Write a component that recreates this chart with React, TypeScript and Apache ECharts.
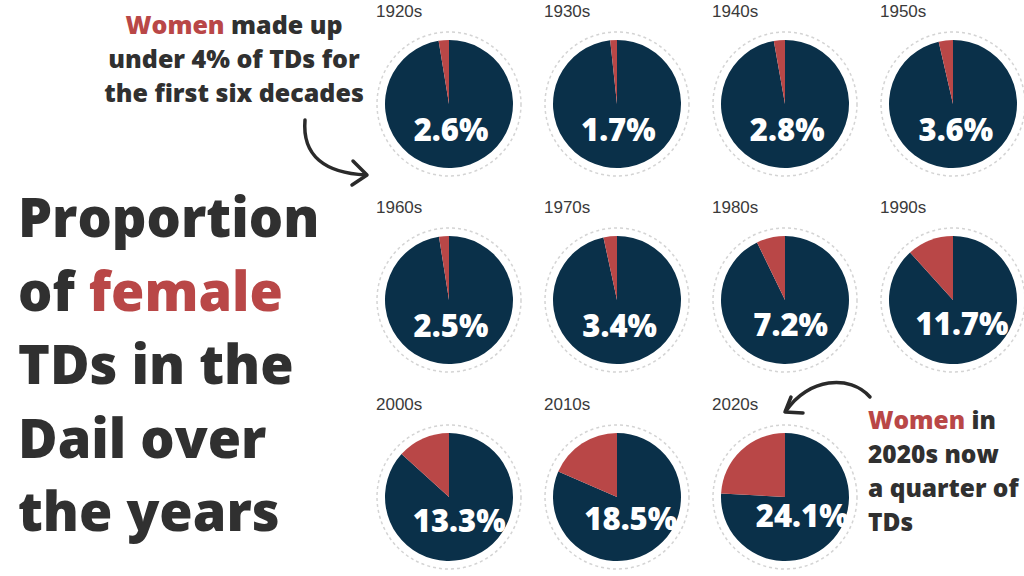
import React, { useEffect, useRef } from "react";
import * as echarts from "echarts";

const decades = ["1920s", "1930s", "1940s", "1950s", "1960s", "1970s", "1980s", "1990s", "2000s", "2010s", "2020s"];
const femaleShare = [2.6, 1.7, 2.8, 3.6, 2.5, 3.4, 7.2, 11.7, 13.3, 18.5, 24.1];
const titleLines = ["Proportion", "of {r|female}", "TDs in the", "Dail over", "the years"];
const note1Lines = ["{r|Women} made up", "under 4% of TDs for", "the first six decades"];
const note2Lines = ["{r|Women} in", "2020s now", "a quarter of", "TDs"];

const NAVY = "#0a3049";
const RED = "#b94747";
const DARK = "#303030";
const FONT = "Open Sans";

const COLS = [449, 617, 785, 953];
const ROWS = [104, 300, 497];
const R = 64;

export default function App() {
  const ref = useRef<HTMLDivElement>(null);
  useEffect(() => {
    document.body.style.margin = "0";
    const chart = echarts.init(ref.current!, null, { renderer: "svg" });
    const series: any[] = [];
    const titles: any[] = [];
    const graphics: any[] = [];
    decades.forEach((d, i) => {
      const cx = COLS[i % 4];
      const cy = ROWS[Math.floor(i / 4)];
      const p = femaleShare[i];
      graphics.push({
        type: "circle",
        shape: { cx, cy, r: 72 },
        style: { fill: "none", stroke: "#d4d4d4", lineWidth: 1.5, lineDash: [3, 3] },
        silent: true,
      });
      series.push({
        type: "pie",
        center: [cx, cy],
        radius: R,
        startAngle: 90,
        clockwise: true,
        silent: true,
        label: { show: false },
        labelLine: { show: false },
        data: [
          { value: +(100 - p).toFixed(1), name: d + " men", itemStyle: { color: NAVY } },
          { value: p, name: d + " women", itemStyle: { color: RED } },
        ],
      });
      series.push({
        type: "pie",
        center: [cx, cy],
        radius: 44,
        startAngle: 90,
        clockwise: true,
        silent: true,
        z: 5,
        itemStyle: { color: "transparent" },
        labelLine: { show: false },
        data: [
          {
            value: +(100 - p).toFixed(1),
            label: {
              show: true,
              position: "inside",
              formatter: p.toFixed(1) + "%",
              color: "#fff",
              fontSize: 31,
              fontWeight: 800,
              fontFamily: FONT,
            },
          },
          { value: p, label: { show: false } },
        ],
      });
      titles.push({
        text: d,
        left: cx - 73,
        top: cy - 101,
        padding: 0,
        textStyle: { fontSize: 17, fontWeight: "normal", color: "#3a3a3a", fontFamily: "Liberation Sans" },
      });
    });

    const rich = (fs: number) => ({
      r: { fill: RED, fontSize: fs, fontWeight: 800, fontFamily: FONT },
    });

    titleLines.forEach((t, i) => {
      graphics.push({
        type: "text",
        x: 18,
        y: 216 + i * 73.5,
        style: {
          text: t,
          fill: DARK,
          fontSize: 54,
          fontWeight: 800,
          fontFamily: FONT,
          textAlign: "left",
          textVerticalAlign: "middle",
          rich: rich(54),
        },
      });
    });
    note1Lines.forEach((t, i) => {
      graphics.push({
        type: "text",
        x: 234,
        y: 24 + i * 34,
        style: {
          text: t,
          fill: DARK,
          fontSize: 25,
          fontWeight: 800,
          fontFamily: FONT,
          textAlign: "center",
          textVerticalAlign: "middle",
          rich: rich(25),
        },
      });
    });
    note2Lines.forEach((t, i) => {
      graphics.push({
        type: "text",
        x: 868,
        y: 419 + i * 34,
        style: {
          text: t,
          fill: DARK,
          fontSize: 24.5,
          fontWeight: 800,
          fontFamily: FONT,
          textAlign: "left",
          textVerticalAlign: "middle",
          rich: rich(24.5),
        },
      });
    });
    const arrowStyle = { stroke: "#2a2a2a", lineWidth: 3.5, fill: "none", lineCap: "round", lineJoin: "round" };
    graphics.push(
      {
        type: "bezierCurve",
        shape: { x1: 305, y1: 120, cpx1: 302, cpy1: 156, cpx2: 325, cpy2: 173, x2: 366, y2: 175 },
        style: arrowStyle,
      },
      { type: "polyline", shape: { points: [[353, 161], [367, 175], [352, 185]] }, style: arrowStyle },
      {
        type: "bezierCurve",
        shape: { x1: 870, y1: 397, cpx1: 850, cpy1: 374, cpx2: 808, cpy2: 378, x2: 786, y2: 411 },
        style: arrowStyle,
      },
      { type: "polyline", shape: { points: [[791, 397], [785, 412], [803, 413]] }, style: arrowStyle }
    );

    chart.setOption({
      animation: false,
      backgroundColor: "#fff",
      title: titles,
      series,
      graphic: graphics,
    });
    return () => chart.dispose();
  }, []);
  return <div ref={ref} style={{ width: 1024, height: 576 }} />;
}
